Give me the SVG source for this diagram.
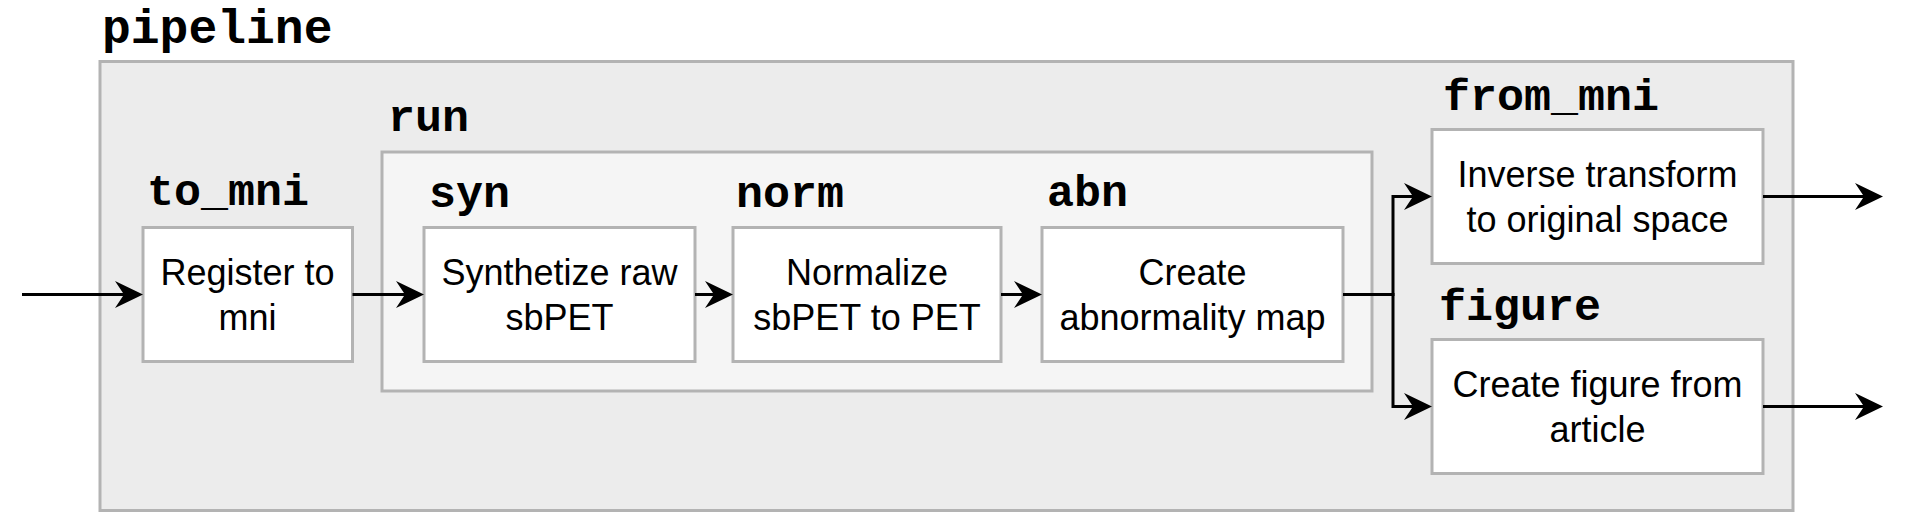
<svg xmlns="http://www.w3.org/2000/svg" width="1908" height="516" viewBox="0 0 1908 516">
<style>
.cont{fill:#ececec;stroke:#b3b3b3;stroke-width:3}
.run{fill:#f5f5f5;stroke:#b3b3b3;stroke-width:3}
.box{fill:#ffffff;stroke:#b3b3b3;stroke-width:3}
.lbl{font-family:"Liberation Mono","Courier New",monospace;font-weight:bold;font-size:45px;fill:#000}
.big{font-size:48px}
.txt{font-family:"Liberation Sans",Arial,sans-serif;font-size:36px;fill:#000;text-anchor:middle}
.edge{fill:none;stroke:#000;stroke-width:3}
</style>
<defs>
<marker id="arr" markerUnits="userSpaceOnUse" viewBox="-29 -15 31 30" refX="-19" refY="0" markerWidth="31" markerHeight="30" orient="auto">
<path d="M0,0 L-28,-13.5 L-19,0 L-28,13.5 Z" fill="#000"/>
</marker>
</defs>
<g id="pipeline">
<rect class="cont" x="100" y="61.5" width="1693" height="449"/>
<text class="lbl big" x="102" y="43">pipeline</text>
</g>
<g id="run">
<rect class="run" x="382" y="152" width="990" height="239"/>
<text class="lbl" x="388" y="131">run</text>
</g>
<g id="to_mni">
<rect class="box" x="143" y="227.5" width="209.5" height="134"/>
<text class="lbl" x="147" y="205">to_mni</text>
<text class="txt" x="247.5" y="284.5">Register to</text>
<text class="txt" x="247.5" y="330">mni</text>
</g>
<g id="syn">
<rect class="box" x="424" y="227.5" width="271" height="134"/>
<text class="lbl" x="429" y="207">syn</text>
<text class="txt" x="559.5" y="284.5">Synthetize raw</text>
<text class="txt" x="559.5" y="330">sbPET</text>
</g>
<g id="norm">
<rect class="box" x="733" y="227.5" width="268" height="134"/>
<text class="lbl" x="736" y="207">norm</text>
<text class="txt" x="867" y="284.5">Normalize</text>
<text class="txt" x="867" y="330">sbPET to PET</text>
</g>
<g id="abn">
<rect class="box" x="1042" y="227.5" width="301" height="134"/>
<text class="lbl" x="1047" y="206">abn</text>
<text class="txt" x="1192.5" y="284.5">Create</text>
<text class="txt" x="1192.5" y="330">abnormality map</text>
</g>
<g id="from_mni">
<rect class="box" x="1432" y="129.5" width="331" height="134"/>
<text class="lbl" x="1443" y="110">from_mni</text>
<text class="txt" x="1597.5" y="186.5">Inverse transform</text>
<text class="txt" x="1597.5" y="232">to original space</text>
</g>
<g id="figure">
<rect class="box" x="1432" y="339.5" width="331" height="134"/>
<text class="lbl" x="1439" y="320">figure</text>
<text class="txt" x="1597.5" y="396.5">Create figure from</text>
<text class="txt" x="1597.5" y="442">article</text>
</g>
<g id="connectors">
<path class="edge" d="M22,294.5 H124" marker-end="url(#arr)"/>
<path class="edge" d="M352.5,294.5 H405" marker-end="url(#arr)"/>
<path class="edge" d="M695,294.5 H714" marker-end="url(#arr)"/>
<path class="edge" d="M1001,294.5 H1023" marker-end="url(#arr)"/>
<path class="edge" d="M1343,294.5 H1393 V196.5 H1413" marker-end="url(#arr)"/>
<path class="edge" d="M1343,294.5 H1393 V406.5 H1413" marker-end="url(#arr)"/>
<path class="edge" d="M1763,196.5 H1864" marker-end="url(#arr)"/>
<path class="edge" d="M1763,406.5 H1864" marker-end="url(#arr)"/>
</g>
</svg>
